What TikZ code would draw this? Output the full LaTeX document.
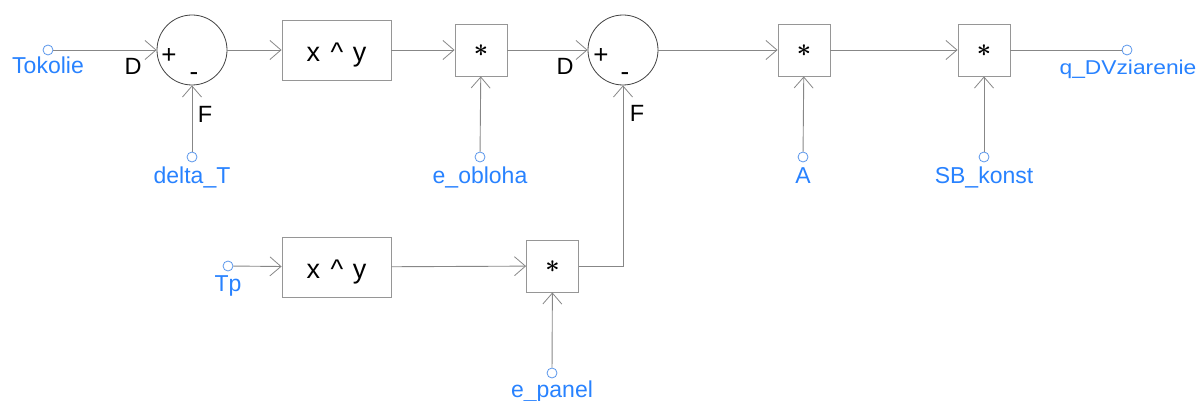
\documentclass[tikz,border=0pt]{standalone}
\usepackage{fontspec}
\setmainfont{Liberation Sans}
\usetikzlibrary{arrows.meta}
\definecolor{portblue}{RGB}{40,130,255}
\definecolor{portring}{RGB}{90,150,235}
\definecolor{wire}{RGB}{135,135,135}
\definecolor{boxline}{RGB}{150,150,150}
\tikzset{
  port/.style={circle,draw=portring,line width=0.8pt,minimum size=10pt,inner sep=0pt},
  portlbl/.style={text=portblue,font=\fontsize{23}{23}\selectfont,anchor=base,inner sep=0pt},
  sumnode/.style={circle,draw=black!75,line width=0.8pt,minimum size=70pt,inner sep=0pt},
  powbox/.style={rectangle,draw=boxline,line width=0.9pt,minimum width=109pt,minimum height=60pt,inner sep=0pt},
  mulbox/.style={rectangle,draw=boxline,line width=0.9pt,minimum width=52pt,minimum height=52pt,inner sep=0pt},
  sign/.style={font=\fontsize{23.5}{23.5}\selectfont,anchor=base,inner sep=0pt},
  bigsign/.style={font=\fontsize{26}{26}\selectfont,anchor=base,inner sep=0pt},
  powtxt/.style={font=\fontsize{27}{27}\selectfont,anchor=base,inner sep=0pt},
  asttxt/.style={font=\fontsize{31}{31}\selectfont\boldmath,inner sep=0pt},
  wireline/.style={draw=wire,line width=0.9pt},
  arr/.style={wireline,-{Straight Barb[length=11pt,width=19pt,line width=0.8pt]}}
}
\begin{document}
\begin{tikzpicture}[x=1pt,y=-1pt]
\useasboundingbox (0,0) rectangle (1199,401);
% ports
\node[port] (pTok) at (48,50) {};
\node[port] (pdT) at (192,157) {};
\node[port] (peo) at (480,157) {};
\node[port] (pA) at (803,157) {};
\node[port] (pSB) at (984,157) {};
\node[port] (pq) at (1127,50) {};
\node[port] (pTp) at (228,266) {};
\node[port] (pep) at (552,373) {};
% port labels
\node[portlbl] (lTok) at (48,74) {Tokolie};
\node[portlbl] (ldT) at (192,183) {delta\_T};
\node[portlbl] (leo) at (480,183) {e\_obloha};
\node[portlbl] (lA) at (803,183) {A};
\node[portlbl] (lSB) at (984,183) {SB\_konst};
\node[portlbl] (lq) at (1128,75) {\fontsize{20}{20}\selectfont\scalebox{1.14}[1]{q\_DVziarenie}};
\node[portlbl] (lTp) at (228,291) {Tp};
\node[portlbl] (lep) at (552,397.5) {e\_panel};
% blocks
\node[sumnode] (s1) at (192,50) {};
\node[sumnode] (s2) at (623,50) {};
\node[powbox] (b1) at (336.5,50) {};
\node[powbox] (b2) at (336.5,267) {};
\node[mulbox] (m1) at (481,50) {};
\node[mulbox] (mA) at (804,50) {};
\node[mulbox] (mSB) at (984,50) {};
\node[mulbox] (m3) at (552.5,266) {};
% block texts
\node[powtxt] (t1) at (336.5,61.5) {x\hspace{3pt} \char94{}\hspace{2pt} y};
\node[powtxt] (t2) at (336.5,278.5) {x\hspace{3pt} \char94{}\hspace{2pt} y};
\node[asttxt] (a1) at (481,51) {$\ast$};
\node[asttxt] (a2) at (804,51) {$\ast$};
\node[asttxt] (a3) at (984,51) {$\ast$};
\node[asttxt] (a4) at (552.5,267) {$\ast$};
% sum signs and input labels
\node[bigsign] (p1) at (169,64) {+};
\node[bigsign] (n1) at (194,80.5) {-};
\node[sign] (d1) at (133,75) {D};
\node[sign] (f1) at (205,123) {F};
\node[bigsign] (p2) at (601,64) {+};
\node[bigsign] (n2) at (625,80.5) {-};
\node[sign] (d2) at (565,75) {D};
\node[sign] (f2) at (637,122) {F};
% connectors
\draw[arr] (pTok) -- (s1);
\draw[arr] (pdT) -- (s1);
\draw[arr] (s1) -- (b1);
\draw[arr] (b1) -- (m1);
\draw[arr] (peo) -- (m1);
\draw[arr] (m1) -- (s2);
\draw[arr] (s2) -- (mA);
\draw[arr] (pA) -- (mA);
\draw[arr] (mA) -- (mSB);
\draw[arr] (pSB) -- (mSB);
\draw[wireline] (mSB) -- (pq);
\draw[arr] (pTp) -- (b2);
\draw[arr] (b2) -- (m3);
\draw[arr] (pep) -- (m3);
\draw[arr] (m3.east) -| (s2.south);
\end{tikzpicture}
\end{document}
